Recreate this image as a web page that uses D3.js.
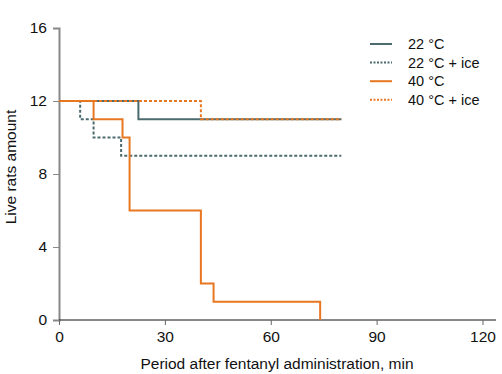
<!DOCTYPE html>
<html>
<head>
<meta charset="utf-8">
<script src="https://cdn.jsdelivr.net/npm/d3@7"></script>
<style>
  body { margin: 0; background: #fff; }
  text { font-family: "Liberation Sans", Arial, sans-serif; }
</style>
</head>
<body>
<svg id="chart" width="502" height="374"></svg>
<script>
// step data: [time (min), live rats] — each point starts a new level
const series22 = [[0, 12], [22.5, 11], [80, 11]];
const series22Ice = [[0, 12], [6, 11], [9.8, 10], [17.6, 9], [80, 9]];
const series40 = [[0, 12], [9.8, 11], [18, 10], [20, 6], [40.2, 2], [43.8, 1], [74, 1], [74, 0]];
const series40Ice = [[0, 12], [40.2, 11], [80, 11]];

const seriesNames = ['22 °C', '22 °C + ice', '40 °C', '40 °C + ice'];
const seriesColors = ['#4b6b6e', '#4b6b6e', '#e87722', '#e87722'];
const seriesDashed = [false, true, false, true];
const xTicks = [0, 30, 60, 90, 120];
const yTicks = [0, 4, 8, 12, 16];

const svg = d3.select('#chart');

const x = d3.scaleLinear().domain([0, 120]).range([59, 482.5]);
const y = d3.scaleLinear().domain([0, 16]).range([320, 28]);

// y axis
const yAxis = svg.append('g')
  .attr('transform', 'translate(59,0)')
  .call(d3.axisLeft(y).tickValues(yTicks).tickSize(6).tickPadding(6));
yAxis.select('.domain').attr('stroke', '#888').attr('stroke-width', 2);
yAxis.selectAll('.tick line').attr('stroke', '#888');
yAxis.selectAll('.tick text').attr('font-size', 15.5).attr('fill', '#111');

// x axis
const xAxis = svg.append('g')
  .attr('transform', 'translate(0,320)')
  .call(d3.axisBottom(x).tickValues(xTicks).tickSize(5).tickPadding(6));
xAxis.select('.domain').attr('d', 'M59,0H496').attr('stroke', '#111');
xAxis.selectAll('.tick line').attr('stroke', '#666');
xAxis.selectAll('.tick text').attr('font-size', 15.5).attr('fill', '#111');

svg.append('text')
  .attr('x', 277).attr('y', 369)
  .attr('text-anchor', 'middle')
  .attr('font-size', 15.5)
  .attr('fill', '#111')
  .text('Period after fentanyl administration, min');

svg.append('text')
  .attr('transform', 'translate(16,167) rotate(-90)')
  .attr('text-anchor', 'middle')
  .attr('font-size', 15.5)
  .attr('fill', '#111')
  .text('Live rats amount');

const line = d3.line()
  .x(d => x(d[0]))
  .y(d => y(d[1]))
  .curve(d3.curveStepAfter);

const allSeries = [series22, series22Ice, series40Ice, series40];
const order = [0, 1, 3, 2];
allSeries.forEach((s, i) => {
  const k = order[i];
  svg.append('path')
    .datum(s)
    .attr('fill', 'none')
    .attr('stroke', seriesColors[k])
    .attr('stroke-width', 2)
    .attr('stroke-dasharray', seriesDashed[k] ? '3,2' : null)
    .attr('d', line);
});

// legend
const legend = svg.append('g').attr('transform', 'translate(370,44)');
seriesNames.forEach((name, i) => {
  const row = legend.append('g').attr('transform', `translate(0,${i * 18.6})`);
  row.append('line')
    .attr('x1', 0).attr('x2', 22)
    .attr('stroke', seriesColors[i])
    .attr('stroke-width', 2)
    .attr('stroke-dasharray', seriesDashed[i] ? '2,1.5' : null);
  row.append('text')
    .attr('x', 38).attr('y', 5)
    .attr('font-size', 14.5)
    .attr('fill', '#111')
    .text(name);
});
</script>
</body>
</html>
